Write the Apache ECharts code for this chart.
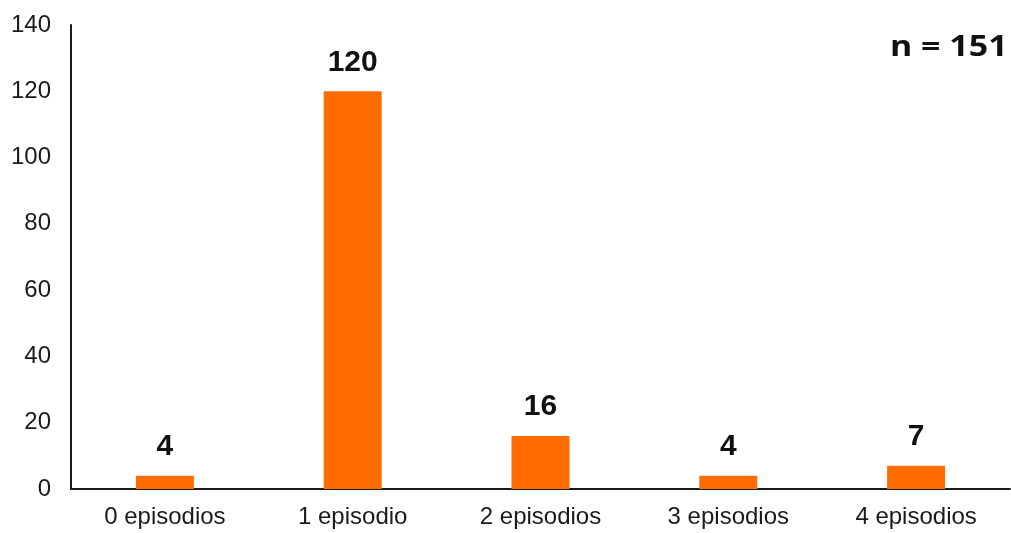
<!DOCTYPE html>
<html>
<head>
<meta charset="utf-8">
<style>
  html, body { margin: 0; padding: 0; background: #fff; }
  #chart { width: 1011px; height: 533px; }
</style>
<script src="https://cdn.jsdelivr.net/npm/echarts@6/dist/echarts.min.js"></script>
</head>
<body>
<div id="chart"></div>
<script>
// Number of episodes per patient
const categories = ['0 episodios', '1 episodio', '2 episodios', '3 episodios', '4 episodios'];
const counts = [4, 120, 16, 4, 7];
const yTicks = { min: 0, max: 140, interval: 20 };
const sampleNote = 'n = 151';

const chart = echarts.init(document.getElementById('chart'), null, { renderer: 'canvas' });

chart.setOption({
  animation: false,
  backgroundColor: '#ffffff',
  grid: { left: 71, right: 1, top: 25, bottom: 44, containLabel: false },
  xAxis: {
    type: 'category',
    data: categories,
    axisLine: { show: true, lineStyle: { color: '#1a1a1a', width: 2 } },
    axisTick: { show: false },
    axisLabel: {
      color: '#1a1a1a',
      fontFamily: 'Liberation Sans, Arial, sans-serif',
      fontSize: 24,
      margin: 16
    }
  },
  yAxis: {
    type: 'value',
    min: yTicks.min,
    max: yTicks.max,
    interval: yTicks.interval,
    axisLine: { show: true, lineStyle: { color: '#1a1a1a', width: 2 } },
    axisTick: { show: false },
    splitLine: { show: false },
    axisLabel: {
      color: '#1a1a1a',
      fontFamily: 'Liberation Sans, Arial, sans-serif',
      fontSize: 24,
      margin: 20
    }
  },
  series: [{
    type: 'bar',
    data: counts,
    barWidth: 58,
    itemStyle: { color: '#ff6d00' },
    label: {
      show: true,
      position: 'top',
      distance: 14,
      color: '#111',
      fontFamily: 'Liberation Sans, Arial, sans-serif',
      fontWeight: 'bold',
      fontSize: 30
    }
  }],
  graphic: [{
    type: 'text',
    x: 890,
    y: 33,
    scaleX: 1.17,
    style: {
      text: sampleNote,
      fill: '#111',
      font: 'bold 29px "Open Sans", "Liberation Sans", sans-serif',
      verticalAlign: 'top'
    }
  }]
});
</script>
</body>
</html>
